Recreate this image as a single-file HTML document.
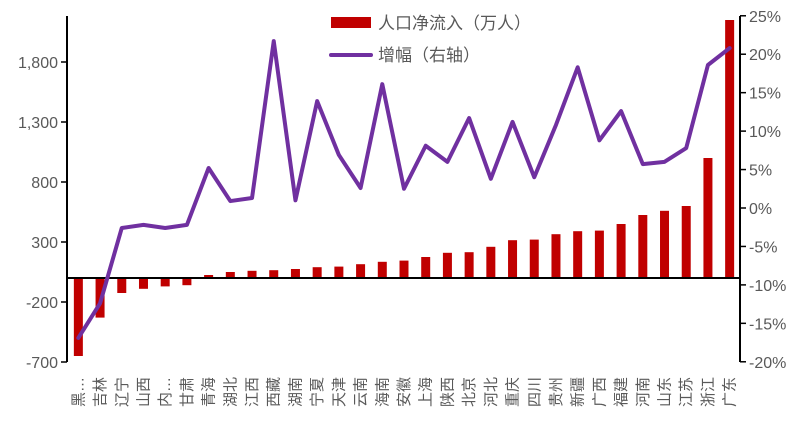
<!DOCTYPE html>
<html><head><meta charset="utf-8"><style>
body{margin:0;background:#fff}
svg text{font-family:"Liberation Sans","Noto Sans CJK SC",sans-serif;fill:#595959}
</style></head><body>
<svg id="c" width="804" height="427"></svg>
<script>
const categories=["黑…","吉林","辽宁","山西","内…","甘肃","青海","湖北","江西","西藏","湖南","宁夏","天津","云南","海南","安徽","上海","陕西","北京","河北","重庆","四川","贵州","新疆","广西","福建","河南","山东","江苏","浙江","广东"];
const inflow=[-650,-330,-125,-90,-70,-60,25,50,60,65,75,90,95,115,135,145,175,210,215,260,315,320,365,390,395,450,525,560,600,1000,2150];
const growth=[-16.9,-12.4,-2.6,-2.2,-2.6,-2.2,5.2,0.9,1.3,21.7,1.0,13.9,6.9,2.6,16.1,2.5,8.1,6.0,11.7,3.8,11.2,4.0,10.8,18.3,8.8,12.6,5.7,6.0,7.8,18.6,20.8];
const leftTicks=[-700,-200,300,800,1300,1800];
const rightTicks=[-20,-15,-10,-5,0,5,10,15,20,25];
const NS="http://www.w3.org/2000/svg",svg=document.getElementById('c');
function mk(t,a,p){const e=document.createElementNS(NS,t);for(const k in a)e.setAttribute(k,a[k]);(p||svg).appendChild(e);return e;}
const x0=67,x1=740,yTop=16,yBot=362;
const yL=v=>278-v*0.12;
const yR=v=>208-v*(346/45);
const bw=(x1-x0)/categories.length;
const xc=i=>x0+bw*(i+0.5)+0.5;
inflow.forEach((v,i)=>{const y=yL(v);const r=mk('rect',{x:xc(i)-4.5,y:Math.min(y,278),width:9,height:Math.abs(278-y),fill:'#c00000'});

});
const zl=mk('line',{x1:x0,x2:x1,y1:278,y2:278,stroke:'#000','stroke-width':2});

const la=mk('line',{x1:x0,x2:x0,y1:yTop,y2:yBot,stroke:'#000','stroke-width':2});

const ra=mk('line',{x1:x1,x2:x1,y1:yTop,y2:yBot,stroke:'#000','stroke-width':2});

leftTicks.forEach(v=>{const y=yL(v);mk('line',{x1:x0-6,x2:x0,y1:y,y2:y,stroke:'#000','stroke-width':1.5});
const t=mk('text',{x:x0-9,y:y+6,'text-anchor':'end','font-size':16});t.textContent=v.toLocaleString('en-US');
});
rightTicks.forEach(v=>{const y=yR(v);mk('line',{x1:x1,x2:x1+6,y1:y,y2:y,stroke:'#000','stroke-width':1.5});
const t=mk('text',{x:x1+9,y:y+6,'font-size':16});t.textContent=v+'%';
});
const pl=mk('polyline',{points:growth.map((v,i)=>xc(i)+','+yR(v)).join(' '),fill:'none',stroke:'#7030a0','stroke-width':4,'stroke-linejoin':'round','stroke-linecap':'round'});

categories.forEach((c,i)=>{const x=xc(i)+5;
const t=mk('text',{x:x,y:407,'font-size':15,fill:'#7f7f7f',transform:`rotate(-90 ${x} 407)`});t.textContent=c;
});
const lg=mk('g',{});
mk('rect',{x:331,y:17,width:40,height:11,fill:'#c00000'},lg);
let t=mk('text',{x:378,y:29,'font-size':17},lg);t.textContent='人口净流入（万人）';
mk('line',{x1:331,x2:371,y1:55,y2:55,stroke:'#7030a0','stroke-width':4,'stroke-linecap':'round'},lg);
t=mk('text',{x:378,y:61,'font-size':17},lg);t.textContent='增幅（右轴）';
</script>
</body></html>
